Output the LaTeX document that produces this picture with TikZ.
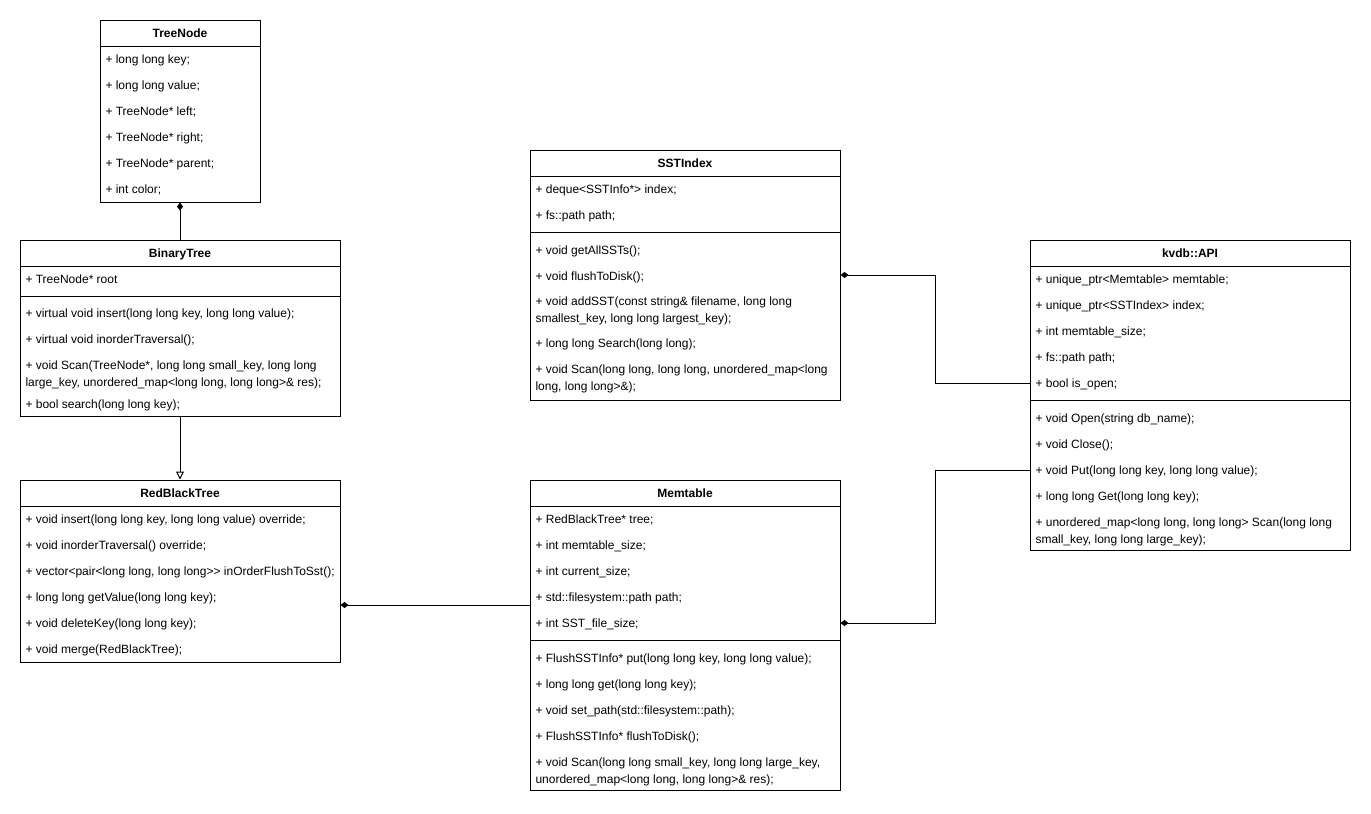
\documentclass[tikz,border=0pt]{standalone}
\usepackage{fontspec}
\setmainfont{Liberation Sans}
\usetikzlibrary{fit,arrows.meta}

\begin{document}
\begin{tikzpicture}[x=0.75pt, y=-0.75pt, line width=0.75pt,
    font=\fontsize{9}{12.75}\selectfont,
    classbox/.style={draw, inner sep=0pt},
    title/.style={anchor=base, inner sep=0pt, font=\fontsize{9}{12.75}\selectfont\bfseries},
    member/.style={anchor=base west, inner sep=0pt, align=left},
    comp/.style={-{Diamond[length=6pt, width=4.5pt]}},
    inherit/.style={-{Triangle[open, length=6pt, width=6pt, fill=white]}}]

    \useasboundingbox (0,0) rectangle (1371,814);

    % TreeNode
    \node[classbox, fit={(100,20) (260,202)}] (treenode) {};
    \draw (100,46) -- (260,46);
    \node[title] (treenodeT) at (180,37) {TreeNode};
    \node[member] (tn1) at (105,63) {+ long long key;};
    \node[member] (tn2) at (105,89) {+ long long value;};
    \node[member] (tn3) at (105,115) {+ TreeNode* left;};
    \node[member] (tn4) at (105,141) {+ TreeNode* right;};
    \node[member] (tn5) at (105,167) {+ TreeNode* parent;};
    \node[member] (tn6) at (105,193) {+ int color;};

    % BinaryTree
    \node[classbox, fit={(20,240) (340,416)}] (bintree) {};
    \draw (20,266) -- (340,266);
    \draw (20,296) -- (340,296);
    \node[title] (bintreeT) at (180,257) {BinaryTree};
    \node[member] (bt1) at (25,283) {+ TreeNode* root};
    \node[member] (bt2) at (25,317) {+ virtual void insert(long long key, long long value);};
    \node[member] (bt3) at (25,343) {+ virtual void inorderTraversal();};
    % two-line texts: base anchor sits on the last line
    \node[member] (bt4) at (25,386) {+ void Scan(TreeNode*, long long small\_key, long long\\large\_key, unordered\_map<long long, long long>\& res);};
    \node[member] (bt5) at (25,408) {+ bool search(long long key);};

    % RedBlackTree
    \node[classbox, fit={(20,480) (340,662)}] (rbtree) {};
    \draw (20,506) -- (340,506);
    \node[title] (rbtreeT) at (180,497) {RedBlackTree};
    \node[member] (rb1) at (25,523) {+ void insert(long long key, long long value) override;};
    \node[member] (rb2) at (25,549) {+ void inorderTraversal() override;};
    \node[member] (rb3) at (25,575) {+ vector<pair<long long, long long>{}> inOrderFlushToSst();};
    \node[member] (rb4) at (25,601) {+ long long getValue(long long key);};
    \node[member] (rb5) at (25,627) {+ void deleteKey(long long key);};
    \node[member] (rb6) at (25,653) {+ void merge(RedBlackTree);};

    % SSTIndex
    \node[classbox, fit={(530,150) (840,400)}] (sstindex) {};
    \draw (530,176) -- (840,176);
    \draw (530,232) -- (840,232);
    \node[title] (sstindexT) at (685,167) {SSTIndex};
    \node[member] (si1) at (535,193) {+ deque<SSTInfo*> index;};
    \node[member] (si2) at (535,219) {+ fs::path path;};
    \node[member] (si3) at (535,254) {+ void getAllSSTs();};
    \node[member] (si4) at (535,280) {+ void flushToDisk();};
    \node[member] (si5) at (535,322) {+ void addSST(const string\& filename, long long\\smallest\_key, long long largest\_key);};
    \node[member] (si6) at (535,347) {+ long long Search(long long);};
    \node[member] (si7) at (535,390) {+ void Scan(long long, long long, unordered\_map<long\\long, long long>\&);};

    % Memtable
    \node[classbox, fit={(530,480) (840,790)}] (memtable) {};
    \draw (530,506) -- (840,506);
    \draw (530,640) -- (840,640);
    \node[title] (memtableT) at (685,497) {Memtable};
    \node[member] (mt1) at (535,523) {+ RedBlackTree* tree;};
    \node[member] (mt2) at (535,549) {+ int memtable\_size;};
    \node[member] (mt3) at (535,575) {+ int current\_size;};
    \node[member] (mt4) at (535,601) {+ std::filesystem::path path;};
    \node[member] (mt5) at (535,627) {+ int SST\_file\_size;};
    \node[member] (mt6) at (535,662) {+ FlushSSTInfo* put(long long key, long long value);};
    \node[member] (mt7) at (535,688) {+ long long get(long long key);};
    \node[member] (mt8) at (535,714) {+ void set\_path(std::filesystem::path);};
    \node[member] (mt9) at (535,740) {+ FlushSSTInfo* flushToDisk();};
    \node[member] (mt10) at (535,783) {+ void Scan(long long small\_key, long long large\_key,\\unordered\_map<long long, long long>\& res);};

    % kvdb::API
    \node[classbox, fit={(1030,240) (1350,550)}] (api) {};
    \draw (1030,266) -- (1350,266);
    \draw (1030,400) -- (1350,400);
    \node[title] (apiT) at (1190,257) {kvdb::API};
    \node[member] (ap1) at (1035,283) {+ unique\_ptr<Memtable> memtable;};
    \node[member] (ap2) at (1035,309) {+ unique\_ptr<SSTIndex> index;};
    \node[member] (ap3) at (1035,335) {+ int memtable\_size;};
    \node[member] (ap4) at (1035,361) {+ fs::path path;};
    \node[member] (ap5) at (1035,387) {+ bool is\_open;};
    \node[member] (ap6) at (1035,422) {+ void Open(string db\_name);};
    \node[member] (ap7) at (1035,448) {+ void Close();};
    \node[member] (ap8) at (1035,474) {+ void Put(long long key, long long value);};
    \node[member] (ap9) at (1035,500) {+ long long Get(long long key);};
    \node[member] (ap10) at (1035,543) {+ unordered\_map<long long, long long> Scan(long long\\small\_key, long long large\_key);};

    % connectors
    \draw[comp] (bintree.north) -- (treenode.south);
    \draw[inherit] (bintree.south) -- (rbtree.north);
    \draw[comp] (memtable.west |- 0,605) -- (rbtree.east |- 0,605);
    \draw[comp] (api.west |- 0,383) -- (935,383) |- (sstindex.east |- 0,275);
    \draw[comp] (api.west |- 0,470) -- (935,470) |- (memtable.east |- 0,623);

\end{tikzpicture}
\end{document}
